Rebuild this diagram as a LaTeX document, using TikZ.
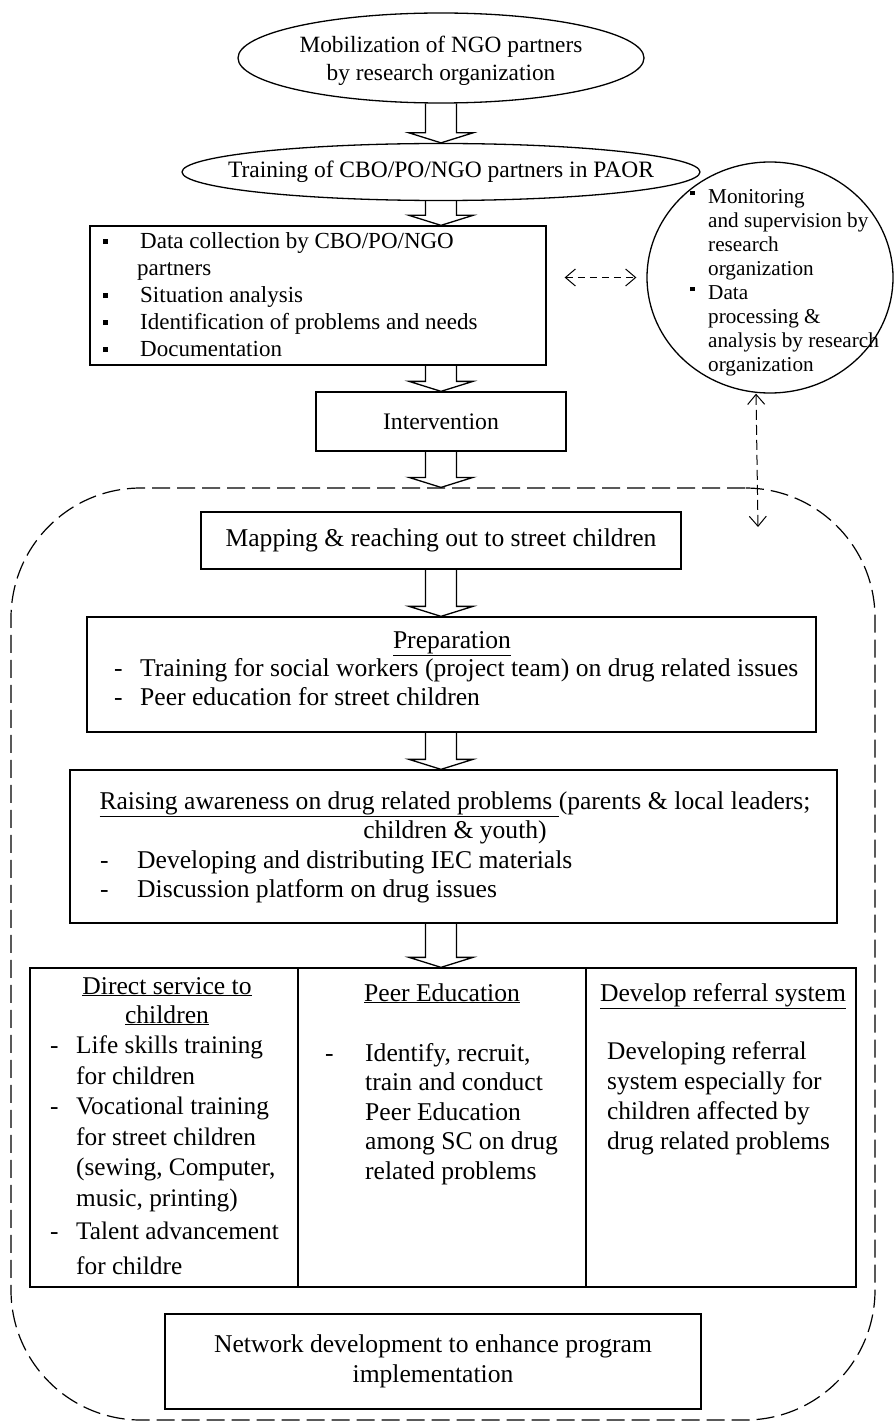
\documentclass[tikz,border=0pt]{standalone}
\usepackage{fontspec}
\setmainfont{Liberation Serif}
\usetikzlibrary{arrows.meta,calc,shapes.geometric}
\newcommand\bl{\makebox[37pt][l]{\rule[4pt]{5pt}{5pt}}}
\newcommand\cb{\makebox[18pt][l]{\rule[8pt]{4.5pt}{4.5pt}}}
\newcommand\dsh[1]{\makebox[#1][l]{-}}
\newcommand\blk[2]{%
  \path (#1.south -| ax) coordinate (ba) (#2.north -| ax) coordinate (bb);
  \draw[blockar] ([xshift=-15.5pt]ba) -- ([xshift=-15.5pt,yshift=10pt]bb) -- ([xshift=-32pt,yshift=10pt]bb) -- (bb) -- ([xshift=32pt,yshift=10pt]bb) -- ([xshift=15.5pt,yshift=10pt]bb) -- ([xshift=15.5pt]ba);}
\begin{document}
\begin{tikzpicture}[x=1pt,y=-1pt,
  every node/.style={inner sep=0pt},
  box/.style={draw,line width=1.3pt,rectangle},
  ell/.style={draw,line width=1.3pt,ellipse},
  blockar/.style={line width=1.3pt,line join=miter},
  upper/.style={font=\fontsize{23.3}{28}\selectfont},
  lower/.style={font=\fontsize{25.6}{29}\selectfont},
  dashar/.style={line width=1pt,dash pattern=on 7pt off 5pt,{Straight Barb[length=10pt,width=17pt]}-{Straight Barb[length=10pt,width=17pt]}},
  regst/.style={draw,line width=1.2pt,dash pattern=on 18pt off 7pt,rounded corners=130pt}]
\useasboundingbox[fill=white] (0,0) rectangle (894,1423);
\coordinate (ax) at (441,0);

% dashed region
\node[regst,minimum width=864pt,minimum height=932pt] (reg) at (443,954) {};

% ellipses
\node[ell,minimum width=406pt,minimum height=90pt] (mob) at (441,58) {};
\node[upper,align=center] (mobt) at ([yshift=-3pt]mob.center) {Mobilization of NGO partners\\by research organization};
\node[ell,minimum width=518pt,minimum height=57pt] (tr) at (441,172) {};
\node[font=\fontsize{23.5}{28}\selectfont] (trt) at (tr.center) {Training of CBO/PO/NGO partners in PAOR};

% data box
\node[box,minimum width=456pt,minimum height=139pt] (data) at (318,295.5) {};
\node[font=\fontsize{23}{27}\selectfont,align=left,anchor=base west] (datat) at (103,356)
 {\bl Data collection by CBO/PO/NGO\\\hspace*{34pt}partners\\\bl Situation analysis\\\bl Identification of problems and needs\\\bl Documentation};

% circle
\node[ell,minimum width=246pt,minimum height=231pt] (circ) at (770,277.5) {};
\node[font=\fontsize{21.2}{24}\selectfont,align=left,anchor=base west] (circt) at (690,371)
 {\cb Monitoring\\\hspace*{18pt}and supervision by\\\hspace*{18pt}research\\\hspace*{18pt}organization\\\cb Data\\\hspace*{18pt}processing \&\\\hspace*{18pt}analysis by research\\\hspace*{18pt}organization};

% intervention
\node[box,font=\fontsize{23.7}{28}\selectfont,minimum width=250pt,minimum height=59pt] (int) at (441,421.5) {Intervention};

% mapping
\node[box,lower,minimum width=480pt,minimum height=57pt] (map) at (441,540.5) {Mapping \& reaching out to street children};

% preparation
\node[box,minimum width=729pt,minimum height=115pt] (prep) at (451.5,674.5) {};
\node[lower,anchor=base] (preph) at (452,648) {\underline{Preparation}};
\node[lower,align=left,anchor=base west] (prepl) at (114,705)
 {\dsh{26pt}Training for social workers (project team) on drug related issues\\\dsh{26pt}Peer education for street children};

% raising awareness
\node[box,minimum width=767pt,minimum height=153pt] (rais) at (453.5,846.5) {};
\node[lower,align=center,anchor=base] (raish) at (455,838)
 {\makebox[711pt][s]{\underline{Raising awareness on drug related problems }(parents \& local leaders;}\\children \& youth)};
\node[lower,align=left,anchor=base west] (raisl) at (100,897)
 {\dsh{37pt}Developing and distributing IEC materials\\\dsh{37pt}Discussion platform on drug issues};

% table
\node[box,minimum width=268pt,minimum height=319pt] (c1) at (164,1127.5) {};
\node[box,minimum width=288pt,minimum height=319pt] (c2) at (442,1127.5) {};
\node[box,minimum width=270pt,minimum height=319pt] (c3) at (721,1127.5) {};
\node[lower,align=center,anchor=base] (c1h) at (167,1023) {\underline{Direct service to}\\\underline{children}};
\node[font=\fontsize{25.3}{30.5}\selectfont,align=left,anchor=base west] (c1l) at (50,1274)
 {\dsh{26pt}Life skills training\\\hspace*{26pt}for children\\\dsh{26pt}Vocational training\\\hspace*{26pt}for street children\\\hspace*{26pt}(sewing, Computer,\\\hspace*{26pt}music, printing)\\[2.5pt]\dsh{26pt}Talent advancement\\[4.5pt]\hspace*{26pt}for childre};
\node[lower,anchor=base] (c2h) at (442,1001) {\underline{Peer Education}};
\node[lower,anchor=base west] (c2d) at (325,1061) {-};
\node[font=\fontsize{25.6}{29.5}\selectfont,align=left,anchor=base west] (c2l) at (365,1179)
 {Identify, recruit,\\train and conduct\\Peer Education\\among SC on drug\\related problems};
\node[lower,anchor=base] (c3h) at (723,1001) {\underline{Develop referral system}};
\node[font=\fontsize{25.4}{30}\selectfont,align=left,anchor=base west] (c3l) at (607,1149)
 {Developing referral\\system especially for\\children affected by\\drug related problems};

% network
\node[box,align=center,minimum width=536pt,minimum height=95pt,font=\fontsize{25.6}{30}\selectfont] (net) at (433,1361.5) {Network development to enhance program\\implementation};

% block arrows
\blk{mob}{tr}
\blk{tr}{data}
\blk{data}{int}
\blk{int}{reg}
\blk{map}{prep}
\blk{prep}{rais}
\blk{rais}{c2}

% dashed arrows
\draw[dashar,shorten <=18pt,shorten >=10pt] (data.east |- circ.west) -- (circ.west);
\coordinate (vend) at (758,527);
\draw[dashar,dash pattern=on 10pt off 5pt] ([xshift=-14pt]circ.south) -- (vend);
\end{tikzpicture}
\end{document}
